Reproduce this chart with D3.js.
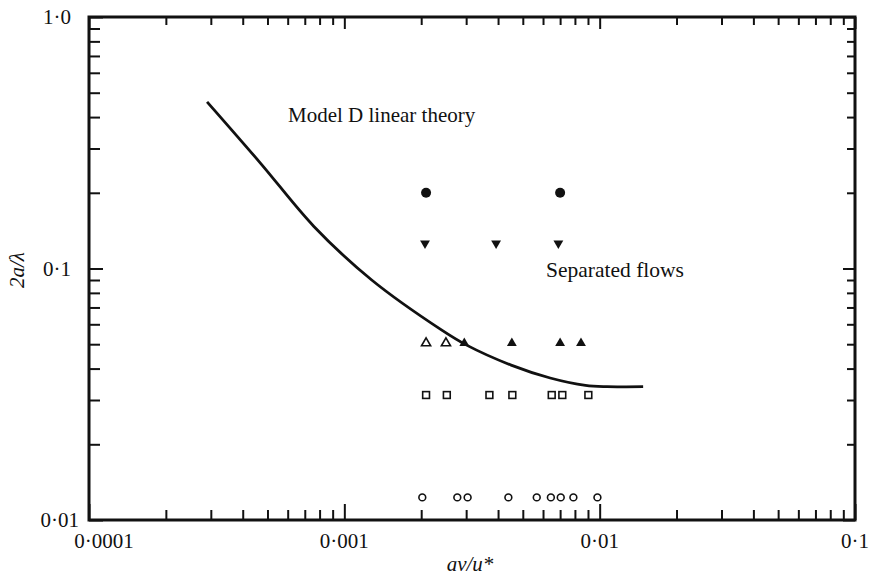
<!DOCTYPE html>
<html>
<head>
    <meta charset="utf-8">
    <title>separated flows</title>
    <style>
        body { margin: 0; background: #fff; }
        text { font-family: "Liberation Serif", "DejaVu Serif", serif; fill: #111; }
    </style>
</head>
<body>
    <svg width="869" height="578"></svg>
    <script src="https://cdn.jsdelivr.net/npm/d3@7"></script>
    <script>

    // values (log-log)
    var curveX = [0.00029, 0.00047, 0.00076, 0.00128, 0.0024, 0.003, 0.0045, 0.0064, 0.0088, 0.0107, 0.0148]
    var curveY = [0.46, 0.262, 0.147, 0.090, 0.057, 0.0497, 0.0413, 0.0367, 0.0343, 0.0339, 0.0339]

    var openCircleX = [0.00202, 0.00277, 0.00304, 0.00439, 0.00567, 0.00644, 0.00704, 0.00789, 0.0098]
    var openCircleY = 0.0123
    var squareX = [0.00209, 0.00252, 0.0037, 0.00455, 0.00649, 0.00714, 0.00903]
    var squareY = 0.0314
    var openTriX = [0.00209, 0.0025]
    var filledTriX = [0.00295, 0.00453, 0.0070, 0.00845]
    var triY = 0.0505
    var downTriX = [0.00207, 0.00393, 0.00689]
    var downTriY = 0.126
    var dotX = [0.00209, 0.0070]
    var dotY = 0.2

    var xTickLabels = ['0·0001', '0·001', '0·01', '0·1']
    var yTickLabels = ['0·01', '0·1', '1·0']

    var svg = d3.select('svg')
    // plot box (note: "top" is a reserved window property, so use other names)
    var pL = 89, pR = 855, pT = 17, pB = 520

    var x = d3.scaleLog().domain([0.0001, 0.1]).range([pL, pR])
    var y = d3.scaleLog().domain([0.01, 1]).range([pB, pT])

    var xMajor = [0.0001, 0.001, 0.01, 0.1]
    var yMajor = [0.01, 0.1, 1]
    var xMinor = x.ticks().filter(function(d){ return xMajor.indexOf(d) < 0 })
    var yMinor = y.ticks().filter(function(d){ return yMajor.indexOf(d) < 0 })

    // ticks point inward on all four sides
    function drawAxis(axisFn, scale, vals, size, tx, ty) {
        var g = svg.append('g')
            .attr('transform', 'translate(' + tx + ',' + ty + ')')
            .call(axisFn(scale).tickValues(vals).tickSize(size).tickFormat(''))
        g.select('.domain').remove()
        g.selectAll('line').attr('stroke', '#111').attr('stroke-width', 2)
    }
    drawAxis(d3.axisBottom, x, xMinor, -10, 0, pB)
    drawAxis(d3.axisBottom, x, xMajor, -16, 0, pB)
    drawAxis(d3.axisTop, x, xMinor, -8, 0, pT)
    drawAxis(d3.axisTop, x, xMajor, -12, 0, pT)
    drawAxis(d3.axisLeft, y, yMinor, -11, pL, 0)
    drawAxis(d3.axisLeft, y, yMajor, -14, pL, 0)
    drawAxis(d3.axisRight, y, yMinor, -8, pR, 0)
    drawAxis(d3.axisRight, y, yMajor, -12, pR, 0)

    svg.append('rect')
        .attr('x', pL).attr('y', pT)
        .attr('width', pR - pL).attr('height', pB - pT)
        .attr('fill', 'none').attr('stroke', '#111').attr('stroke-width', 3)

    // tick labels
    svg.selectAll('.xlab').data(xTickLabels).enter().append('text')
        .attr('x', function(d, i){ return x(xMajor[i]) + (i === 0 ? 15 : 0) })
        .attr('y', 548)
        .attr('text-anchor', 'middle')
        .attr('font-size', 21)
        .text(function(d){ return d })

    svg.selectAll('.ylab').data(yTickLabels).enter().append('text')
        .attr('x', function(d, i){ return i === 0 ? 79 : 71 })
        .attr('y', function(d, i){ return y(yMajor[i]) + 7 })
        .attr('text-anchor', 'end')
        .attr('font-size', 21)
        .text(function(d){ return d })

    // axis titles
    svg.append('text')
        .attr('x', 470).attr('y', 571)
        .attr('text-anchor', 'middle')
        .attr('font-size', 21)
        .attr('font-style', 'italic')
        .text('aν/u*')

    svg.append('text')
        .attr('transform', 'translate(24,270) rotate(-90)')
        .attr('text-anchor', 'middle')
        .attr('font-size', 21)
        .attr('font-style', 'italic')
        .text('2a/λ')

    // theory curve
    var line = d3.line()
        .x(function(d){ return x(d[0]) })
        .y(function(d){ return y(d[1]) })
        .curve(d3.curveCatmullRom.alpha(0.5))

    svg.append('path')
        .datum(d3.zip(curveX, curveY))
        .attr('d', line)
        .attr('fill', 'none')
        .attr('stroke', '#111')
        .attr('stroke-width', 2.8)

    // markers
    svg.selectAll('.oc').data(openCircleX).enter().append('circle')
        .attr('cx', function(d){ return x(d) })
        .attr('cy', y(openCircleY))
        .attr('r', 3.4)
        .attr('fill', 'none').attr('stroke', '#111').attr('stroke-width', 1.6)

    svg.selectAll('.sq').data(squareX).enter().append('rect')
        .attr('x', function(d){ return x(d) - 3.4 })
        .attr('y', y(squareY) - 3.4)
        .attr('width', 6.8).attr('height', 6.8)
        .attr('fill', 'none').attr('stroke', '#111').attr('stroke-width', 1.6)

    var tri = d3.symbol().type(d3.symbolTriangle).size(42)

    svg.selectAll('.ot').data(openTriX).enter().append('path')
        .attr('d', d3.symbol().type(d3.symbolTriangle).size(36))
        .attr('transform', function(d){ return 'translate(' + x(d) + ',' + y(triY) + ')' })
        .attr('fill', 'none').attr('stroke', '#111').attr('stroke-width', 1.6)

    svg.selectAll('.ft').data(filledTriX).enter().append('path')
        .attr('d', tri)
        .attr('transform', function(d){ return 'translate(' + x(d) + ',' + y(triY) + ')' })
        .attr('fill', '#111')

    svg.selectAll('.dt').data(downTriX).enter().append('path')
        .attr('d', tri)
        .attr('transform', function(d){ return 'translate(' + x(d) + ',' + y(downTriY) + ') rotate(180)' })
        .attr('fill', '#111')

    svg.selectAll('.dot').data(dotX).enter().append('circle')
        .attr('cx', function(d){ return x(d) })
        .attr('cy', y(dotY))
        .attr('r', 5)
        .attr('fill', '#111')

    // annotations
    svg.append('text')
        .attr('x', 288).attr('y', 122)
        .attr('font-size', 21)
        .text('Model D linear theory')

    svg.append('text')
        .attr('x', 546).attr('y', 277)
        .attr('font-size', 21.5)
        .text('Separated flows')

    </script>
</body>
</html>
